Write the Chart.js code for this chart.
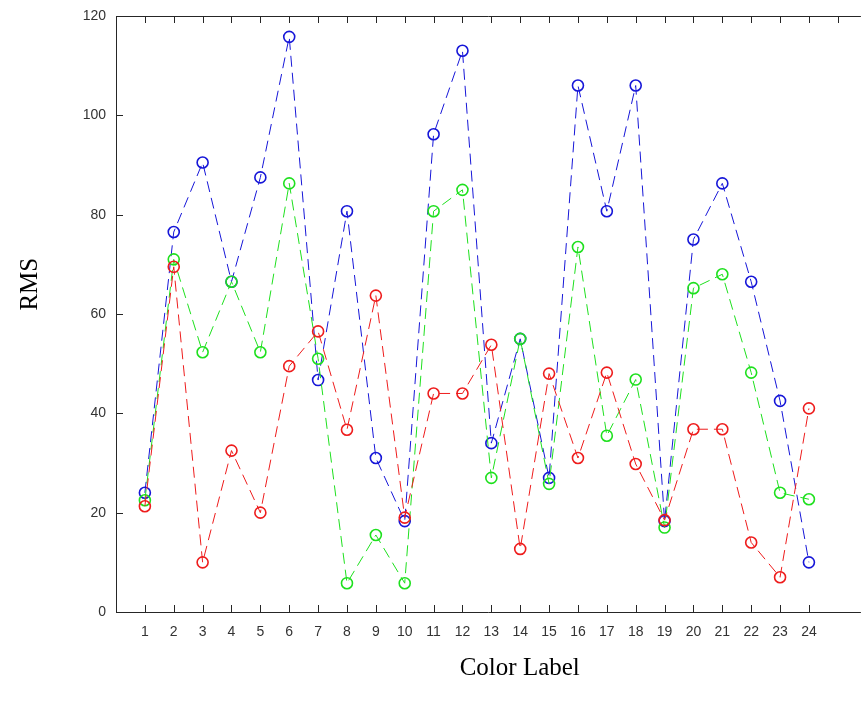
<!DOCTYPE html>
<html>
<head>
<meta charset="utf-8">
<script src="https://cdn.jsdelivr.net/npm/chart.js@4.4.0/dist/chart.umd.min.js"></script>
<style>
  html, body { margin: 0; padding: 0; background: #fff; overflow: hidden; }
  #wrap { width: 861px; height: 715px; overflow: hidden; }
</style>
</head>
<body>
<div id="wrap"><canvas id="Chart" width="868" height="715"></canvas></div>
<script>
// color labels 1..24
const labels = [1,2,3,4,5,6,7,8,9,10,11,12,13,14,15,16,17,18,19,20,21,22,23,24];

// RMS values
const blueRMS  = [24, 76.5, 90.5, 66.5, 87.5, 115.8, 46.7, 80.7, 31, 18.3, 96.2, 113, 34, 55, 27, 106, 80.7, 106, 18.3, 75, 86.3, 66.5, 42.5, 10];
const greenRMS = [22.5, 71, 52.3, 66.5, 52.3, 86.3, 51, 5.8, 15.5, 5.8, 80.7, 85, 27, 55, 25.8, 73.5, 35.5, 46.8, 17, 65.2, 68, 48.2, 24, 22.7];
const redRMS   = [21.3, 69.5, 10, 32.5, 20, 49.5, 56.5, 36.7, 63.7, 19, 44, 44, 53.8, 12.7, 48, 31, 48.2, 29.8, 18.5, 36.8, 36.8, 14, 7, 41];

const yTicks = [0, 20, 40, 60, 80, 100, 120];

function toPoints(vals) {
    return vals.map(function(v, i) { return { x: labels[i], y: v }; });
}

function series(vals, color) {
    return {
        data: toPoints(vals),
        borderColor: color,
        borderWidth: 1,
        borderDash: [11, 6],
        pointStyle: 'circle',
        pointRadius: 5.5,
        pointBorderWidth: 1.6,
        pointBorderColor: color,
        pointBackgroundColor: 'rgba(0,0,0,0)',
        fill: false,
        tension: 0
    };
}

// inward tick marks, axis lines and axis titles (matlab style)
const matlabBox = {
    id: 'matlabBox',
    afterDraw: function(chart) {
        const ctx = chart.ctx;
        const a = chart.chartArea;
        const xs = chart.scales.x, ys = chart.scales.y;
        ctx.save();
        ctx.strokeStyle = '#262626';
        ctx.lineWidth = 1;
        ctx.beginPath();
        // top, left, bottom (right side is cut off in the picture)
        ctx.moveTo(a.right, a.top + 0.5);
        ctx.lineTo(a.left + 0.5, a.top + 0.5);
        ctx.lineTo(a.left + 0.5, a.bottom + 0.5);
        ctx.lineTo(a.right, a.bottom + 0.5);
        ctx.stroke();
        ctx.beginPath();
        labels.concat([25]).forEach(function(l) {
            const px = Math.round(xs.getPixelForValue(l)) + 0.5;
            ctx.moveTo(px, a.top); ctx.lineTo(px, a.top + 7);
            if (l <= 24) { ctx.moveTo(px, a.bottom); ctx.lineTo(px, a.bottom - 7); }
        });
        yTicks.forEach(function(t) {
            const py = Math.round(ys.getPixelForValue(t)) + 0.5;
            ctx.moveTo(a.left, py); ctx.lineTo(a.left + 7, py);
        });
        ctx.stroke();

        ctx.fillStyle = '#000';
        ctx.font = '25px "Liberation Serif", "DejaVu Serif", serif';
        ctx.textAlign = 'center';
        ctx.textBaseline = 'middle';
        ctx.fillText('Color Label', a.left + (a.right - a.left) * 0.542, a.bottom + 56);
        ctx.translate(30, a.top + (a.bottom - a.top) * 0.45);
        ctx.rotate(-Math.PI / 2);
        ctx.fillText('RMS', 0, 0);
        ctx.restore();
    }
};

const chart = document.getElementById("Chart").getContext("2d");
const myChart = new Chart(chart, {
    type: 'line',
    data: {
        datasets: [
            series(redRMS, '#ee1c1c'),
            series(greenRMS, '#1ee01e'),
            series(blueRMS, '#1616d8')
        ]
    },
    options: {
        responsive: false,
        animation: false,
        layout: { padding: { top: 16, right: 0, left: 0, bottom: 0 } },
        plugins: {
            legend: { display: false },
            tooltip: { enabled: false }
        },
        scales: {
            x: {
                type: 'linear',
                min: 0,
                max: 25.8,
                grid: { display: false, drawTicks: false },
                border: { display: false },
                afterFit: function(scale) {
                    scale.height = 103;
                    scale.paddingLeft = 0;
                    scale.paddingRight = 0;
                },
                ticks: {
                    stepSize: 1,
                    autoSkip: false,
                    maxRotation: 0,
                    padding: 12,
                    color: '#333',
                    font: { family: '"Liberation Sans", Arial, sans-serif', size: 14 },
                    callback: function(v) { return (v >= 1 && v <= 24) ? v : ''; }
                }
            },
            y: {
                min: 0,
                max: 120,
                grid: { display: false, drawTicks: false },
                border: { display: false },
                afterFit: function(scale) {
                    scale.width = 116;
                    scale.paddingTop = 0;
                    scale.paddingBottom = 0;
                },
                ticks: {
                    stepSize: 20,
                    padding: 10,
                    color: '#333',
                    font: { family: '"Liberation Sans", Arial, sans-serif', size: 14 }
                }
            }
        }
    },
    plugins: [matlabBox]
});
</script>
</body>
</html>
